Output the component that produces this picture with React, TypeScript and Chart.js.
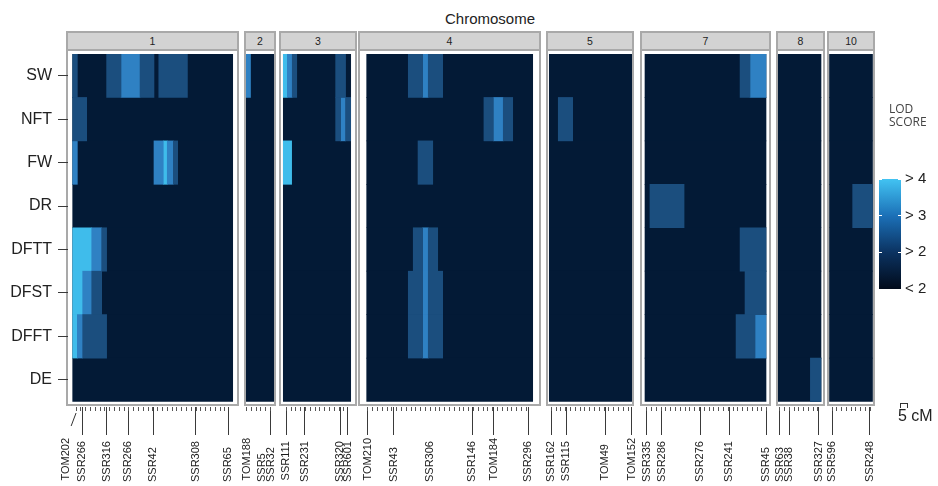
import React, { useEffect, useRef } from 'react';
import { Chart, registerables } from 'chart.js';

Chart.register(...registerables);

// ---------------- data ----------------
const traits = ['SW', 'NFT', 'FW', 'DR', 'DFTT', 'DFST', 'DFFT', 'DE'];
const chromosomes = ['1', '2', '3', '4', '5', '7', '8', '10'];
const chromLengthsCM = [100, 18, 42.1, 103.8, 51.5, 75.6, 27.1, 27.1];

const markerNames: string[][] = [
  ['TOM202', 'SSR266', 'SSR316', 'SSR266', 'SSR42', 'SSR308', 'SSR65'],
  ['TOM188', 'SSR5', 'SSR32'],
  ['SSR111', 'SSR231', 'SSR320', 'SSR601'],
  ['TOM210', 'SSR43', 'SSR306', 'SSR146', 'TOM184', 'SSR296'],
  ['SSR162', 'SSR115', 'TOM49', 'TOM152'],
  ['SSR335', 'SSR286', 'SSR276', 'SSR241', 'SSR45'],
  ['SSR63', 'SSR38', 'SSR327'],
  ['SSR596', 'SSR248'],
];
const markerPosCM: number[][] = [
  [2.1, 6.0, 21.2, 34.6, 50.4, 77.0, 97.2],
  [0.6, 10.2, 16.0],
  [1.9, 13.3, 35.5, 40.3],
  [0.8, 17.0, 39.4, 66.0, 79.6, 101.0],
  [1.2, 10.6, 35.0, 51.5],
  [1.1, 10.4, 34.4, 52.7, 75.6],
  [1.1, 7.2, 25.8],
  [1.7, 25.2],
];
// labels drawn away from their marker (chromosome:marker -> shift in cM)
const markerLabelShiftCM: Record<string, number> = { '1:TOM202': -6.2 };
// markers whose label has no leader line in the figure
const markersWithoutLeader = ['2:TOM188', '2:SSR5', '4:SSR306'];

// [chromosome, trait, start cM, end cM, LOD level (1: >2, 2: >3, 3: >4)]
const qtlSegments: [string, string, number, number, number][] = [
  ['1', 'SW', 0, 2.9, 1], ['1', 'SW', 21.2, 30.2, 1], ['1', 'SW', 30.2, 42.1, 2],
  ['1', 'SW', 42.1, 50.8, 1], ['1', 'SW', 53.8, 71.7, 1],
  ['1', 'NFT', 0, 8.75, 1],
  ['1', 'FW', 0, 2.9, 2], ['1', 'FW', 50.8, 56.6, 2], ['1', 'FW', 56.6, 59.1, 3],
  ['1', 'FW', 59.1, 62.9, 2], ['1', 'FW', 62.9, 65.6, 1],
  ['1', 'DFTT', 0, 11.9, 3], ['1', 'DFTT', 11.9, 18.1, 2], ['1', 'DFTT', 18.1, 21.2, 1],
  ['1', 'DFST', 0, 6.25, 3], ['1', 'DFST', 6.25, 11.9, 2], ['1', 'DFST', 11.9, 18.1, 1],
  ['1', 'DFFT', 0, 2.9, 3], ['1', 'DFFT', 2.9, 6.25, 2], ['1', 'DFFT', 6.25, 21.2, 1],
  ['2', 'SW', 0, 2.9, 2],
  ['3', 'SW', 0, 2.5, 3], ['3', 'SW', 2.5, 5.6, 2], ['3', 'SW', 5.6, 8.4, 1], ['3', 'SW', 32.7, 38.9, 1],
  ['3', 'NFT', 32.7, 35.8, 1], ['3', 'NFT', 35.8, 38.9, 2], ['3', 'NFT', 38.9, 42.1, 1],
  ['3', 'FW', 0, 5.2, 3],
  ['4', 'SW', 26, 35, 1], ['4', 'SW', 35, 38.5, 2], ['4', 'SW', 38.5, 47.5, 1],
  ['4', 'NFT', 73.3, 79.2, 1], ['4', 'NFT', 79.2, 85.4, 2], ['4', 'NFT', 85.4, 91.3, 1],
  ['4', 'FW', 32.1, 41.3, 1],
  ['4', 'DFTT', 29.1, 35, 1], ['4', 'DFTT', 35, 38.5, 2], ['4', 'DFTT', 38.5, 44.4, 1],
  ['4', 'DFST', 26, 35, 1], ['4', 'DFST', 35, 38.5, 2], ['4', 'DFST', 38.5, 47.5, 1],
  ['4', 'DFFT', 26, 35, 1], ['4', 'DFFT', 35, 38.5, 2], ['4', 'DFFT', 38.5, 47.5, 1],
  ['5', 'NFT', 5.6, 14.6, 1],
  ['7', 'SW', 59.4, 65.6, 1], ['7', 'SW', 65.6, 75.6, 2],
  ['7', 'DR', 3.1, 24.4, 1],
  ['7', 'DFTT', 59.4, 75.6, 1],
  ['7', 'DFST', 62.5, 75.6, 1],
  ['7', 'DFFT', 56.9, 68.75, 1], ['7', 'DFFT', 68.75, 75.6, 2],
  ['8', 'DE', 20.4, 27.1, 1],
  ['10', 'DR', 14.6, 27.1, 1],
];

const lodTickValues = [1, 2, 3, 4];
const lodTickLabels = ['< 2', '> 2', '> 3', '> 4'];
const MINOR_STEP_CM = 3;

// ---------------- style / layout ----------------
const LOD_COLORS = ['#031a36', '#1b4e7e', '#2f81c3', '#3fbceb'];
const FONT = '"Liberation Sans", Arial, sans-serif';
const PANEL_BOX: [number, number][] = [
  [66, 239], [244, 276], [279, 357], [358, 541], [546, 634], [640, 771], [776, 825], [827, 875],
];
const PANEL_HEAT: [number, number][] = [
  [72.7, 232.7], [246, 274], [283.3, 350.7], [366.7, 532.7], [549.3, 631.7], [645, 766], [778, 821], [829.5, 872.5],
];
const BW = 2;
const BOX_TOP = 31;
const BOX_BOTTOM = 406;
const HEAT_TOP = 54;
const HEAT_BOTTOM = 401.5;
const AREA_BOTTOM = 407;
const PAGE_H = 486;
const MARKER_FONT_SIZE = 11;
const CANVAS_MARGIN = 16;
const TRANSPARENT = 'rgba(0,0,0,0)';

const connectorPlugin = {
  id: 'markerConnector',
  afterDraw(chart: any, _args: any, opts: any) {
    const items: [number, number][] = opts.items || [];
    if (!items.length) return;
    const xs = chart.scales.x;
    const b = chart.chartArea.bottom;
    const c = chart.ctx;
    c.save();
    c.strokeStyle = '#333';
    c.lineWidth = 1;
    items.forEach(([from, to]) => {
      c.beginPath();
      c.moveTo(xs.getPixelForValue(from), b + 6);
      c.lineTo(xs.getPixelForValue(to) + 5, b + 19);
      c.stroke();
    });
    c.restore();
  },
};

export default function App() {
  const panelRefs = useRef<(HTMLCanvasElement | null)[]>([]);
  const legendRef = useRef<HTMLCanvasElement | null>(null);

  useEffect(() => {
    const charts: Chart[] = [];
    const measure = document.createElement('canvas').getContext('2d')!;
    measure.font = `${MARKER_FONT_SIZE}px ${FONT}`;
    const allNames = markerNames.flat();
    const maxW = Math.max(...allNames.map((n) => measure.measureText(n).width));
    const spaceW = measure.measureText('a a').width - measure.measureText('aa').width;
    const padLabel = (n: string) =>
      n + ' '.repeat(Math.max(0, Math.round((maxW - measure.measureText(n).width) / spaceW)));

    const rowPx = (HEAT_BOTTOM - HEAT_TOP) / traits.length;
    const yMin = -0.5;
    const yMax = traits.length - 0.5 + (AREA_BOTTOM - HEAT_BOTTOM) / rowPx;

    chromosomes.forEach((chr, p) => {
      const canvas = panelRefs.current[p];
      if (!canvas) return;
      const len = chromLengthsCM[p];
      const [bl, br] = PANEL_BOX[p];
      const [hl, hr] = PANEL_HEAT[p];
      const innerL = bl + BW;
      const innerR = br - BW;
      const canvasL = p === 0 ? 0 : innerL - CANVAS_MARGIN;
      const padL = p === 0 ? 0 : CANVAS_MARGIN;
      const pxPerCM = (hr - hl) / len;
      const xMin = -(hl - innerL) / pxPerCM;
      const xMax = len + (innerR - hr) / pxPerCM;
      const names = markerNames[p];
      const pos = markerPosCM[p];
      const shifts = names.map((n) => markerLabelShiftCM[`${chr}:${n}`] ?? 0);
      const noLeader = names.map((n) => markersWithoutLeader.includes(`${chr}:${n}`));
      const labelPos = pos.map((v, i) => v + shifts[i]);
      const connectors: [number, number][] = pos
        .map((v, i) => [v, labelPos[i]] as [number, number])
        .filter((_, i) => shifts[i] !== 0);
      const minorTicks: number[] = [];
      for (let v = pos[0]; v <= pos[pos.length - 1] + 0.5; v += MINOR_STEP_CM) minorTicks.push(v);

      const base = {
        label: 'LOD < 2',
        data: traits.map((_, i) => ({ x: [0, len], y: i })),
        backgroundColor: LOD_COLORS[0],
        order: 1,
      };
      const levels = [1, 2, 3].map((lvl) => ({
        label: `LOD level ${lvl}`,
        data: qtlSegments
          .filter((s) => s[0] === chr && s[4] === lvl)
          .map((s) => ({ x: [s[2], s[3]], y: traits.indexOf(s[1]) })),
        backgroundColor: LOD_COLORS[lvl],
        order: 0,
      }));

      const zeroPad = (s: any) => {
        s.paddingLeft = 0;
        s.paddingRight = 0;
        s.paddingTop = 0;
        s.paddingBottom = 0;
      };

      charts.push(
        new Chart(canvas, {
          type: 'bar',
          data: { datasets: [...levels, base] as any },
          plugins: [connectorPlugin as any],
          options: {
            animation: false,
            responsive: true,
            maintainAspectRatio: false,
            indexAxis: 'y',
            events: [],
            layout: { padding: { left: padL, right: CANVAS_MARGIN, top: 0, bottom: 0 } },
            datasets: {
              bar: {
                grouped: false,
                barPercentage: 1,
                categoryPercentage: 1,
                borderWidth: 0,
              },
            } as any,
            plugins: {
              legend: { display: false },
              tooltip: { enabled: false },
              markerConnector: { items: connectors },
            } as any,
            scales: {
              x: {
                type: 'linear',
                position: 'bottom',
                min: xMin,
                max: xMax,
                afterBuildTicks: (s: any) => {
                  s.ticks = labelPos.map((v) => ({ value: v }));
                },
                afterFit: (s: any) => {
                  s.height = PAGE_H - AREA_BOTTOM;
                  zeroPad(s);
                },
                ticks: {
                  autoSkip: false,
                  maxRotation: 90,
                  minRotation: 90,
                  padding: 3,
                  color: '#1a1a1a',
                  font: { family: FONT, size: MARKER_FONT_SIZE },
                  callback: (_v: any, i: number) => padLabel(names[i]),
                },
                grid: {
                  drawOnChartArea: false,
                  drawTicks: true,
                  tickLength: 28,
                  tickWidth: 1,
                  tickColor: (ctx: any) =>
                    shifts[ctx.index] || noLeader[ctx.index] ? TRANSPARENT : '#3a3a3a',
                },
                border: { display: false },
              },
              xm: {
                type: 'linear',
                axis: 'x',
                position: { y: yMax } as any,
                min: xMin,
                max: xMax,
                afterBuildTicks: (s: any) => {
                  s.ticks = minorTicks.map((v) => ({ value: v }));
                },
                ticks: { display: false },
                grid: { drawOnChartArea: false, tickLength: 4, tickWidth: 1, tickColor: '#555' },
                border: { display: false },
              },
              y: {
                type: 'linear',
                display: p === 0,
                reverse: true,
                offset: false,
                min: yMin,
                max: yMax,
                afterBuildTicks: (s: any) => {
                  s.ticks = traits.map((_, i) => ({ value: i }));
                },
                afterFit: (s: any) => {
                  s.width = innerL - canvasL - padL;
                  zeroPad(s);
                },
                ticks: {
                  padding: 6,
                  color: '#222',
                  font: { family: FONT, size: 16 },
                  callback: (_v: any, i: number) => traits[i],
                },
                grid: {
                  offset: false,
                  drawOnChartArea: false,
                  tickLength: 10,
                  tickColor: '#3a3a3a',
                },
                border: { display: false },
              },
            } as any,
          },
        })
      );
    });

    if (legendRef.current) {
      charts.push(
        new Chart(legendRef.current, {
          type: 'bar',
          data: {
            labels: ['LOD SCORE'],
            datasets: [
              {
                data: [[lodTickValues[0], lodTickValues[lodTickValues.length - 1]]] as any,
                backgroundColor: (ctx: any) => {
                  const area = ctx.chart.chartArea;
                  if (!area) return LOD_COLORS[0];
                  const g = ctx.chart.ctx.createLinearGradient(0, area.bottom, 0, area.top);
                  g.addColorStop(0, '#010b1b');
                  g.addColorStop(0.33, '#0b3260');
                  g.addColorStop(0.66, '#1b6fb6');
                  g.addColorStop(1, '#42c3f2');
                  return g;
                },
                barPercentage: 1,
                categoryPercentage: 1,
                borderWidth: 0,
              },
            ],
          },
          options: {
            animation: false,
            responsive: true,
            maintainAspectRatio: false,
            events: [],
            layout: { padding: { top: 9, bottom: 11, left: 0, right: 0 } },
            plugins: { legend: { display: false }, tooltip: { enabled: false } },
            scales: {
              x: { display: false },
              y: {
                type: 'linear',
                position: 'right',
                min: lodTickValues[0],
                max: lodTickValues[lodTickValues.length - 1],
                afterBuildTicks: (s: any) => {
                  s.ticks = lodTickValues.map((v) => ({ value: v }));
                },
                afterFit: (s: any) => {
                  s.width = 37;
                  s.paddingTop = 0;
                  s.paddingBottom = 0;
                },
                ticks: {
                  padding: 4,
                  color: '#222',
                  font: { family: FONT, size: 15 },
                  callback: (_v: any, i: number) => lodTickLabels[i],
                },
                grid: { drawOnChartArea: true, drawTicks: false, color: '#ffffff', lineWidth: 1, z: 1 },
                border: { display: false, dash: [3, 16] },
              },
            } as any,
          },
        })
      );
    }

    return () => charts.forEach((c) => c.destroy());
  }, []);

  return (
    <div
      style={{
        position: 'absolute',
        left: 0,
        top: 0,
        width: 938,
        height: PAGE_H,
        overflow: 'hidden',
        background: '#fff',
        fontFamily: FONT,
        color: '#222',
      }}
    >
      <div style={{ position: 'absolute', left: 430, top: 10, width: 120, textAlign: 'center', fontSize: 15, lineHeight: '18px' }}>
        Chromosome
      </div>
      {chromosomes.map((chr, p) => {
        const [bl, br] = PANEL_BOX[p];
        return (
          <div
            key={'box' + chr}
            style={{
              position: 'absolute',
              left: bl,
              top: BOX_TOP,
              width: br - bl,
              height: BOX_BOTTOM - BOX_TOP,
              boxSizing: 'border-box',
              border: `${BW}px solid #a9a9a9`,
              background: '#fff',
            }}
          >
            <div
              style={{
                height: 18,
                boxSizing: 'border-box',
                background: '#d3d3d3',
                borderBottom: '2px solid #a9a9a9',
                textAlign: 'center',
                fontSize: 10.5,
                lineHeight: '16px',
                color: '#1e1e1e',
              }}
            >
              {chr}
            </div>
          </div>
        );
      })}
      {chromosomes.map((chr, p) => {
        const [bl, br] = PANEL_BOX[p];
        const innerL = bl + BW;
        const innerR = br - BW;
        const left = p === 0 ? 0 : innerL - CANVAS_MARGIN;
        return (
          <div
            key={'cv' + chr}
            style={{
              position: 'absolute',
              left,
              top: HEAT_TOP,
              width: innerR + CANVAS_MARGIN - left,
              height: PAGE_H - HEAT_TOP,
            }}
          >
            <canvas ref={(el) => { panelRefs.current[p] = el; }} />
          </div>
        );
      })}
      <div style={{ position: 'absolute', left: 879, top: 170, width: 59, height: 130 }}>
        <canvas ref={legendRef} />
      </div>
      <div
        style={{
          position: 'absolute',
          left: 889,
          top: 103,
          fontSize: 12,
          lineHeight: '12.5px',
          fontFamily: '"Open Sans", sans-serif',
          color: '#444',
          whiteSpace: 'pre',
        }}
      >
        {'LOD\nSCORE'}
      </div>
      <div
        style={{
          position: 'absolute',
          left: 900,
          top: 403,
          width: 6,
          height: 4,
          borderTop: '1px solid #333',
          borderLeft: '1px solid #333',
          borderRight: '1px solid #333',
        }}
      />
      <div style={{ position: 'absolute', left: 898, top: 406, fontSize: 16, lineHeight: '20px', color: '#222' }}>5 cM</div>
    </div>
  );
}
